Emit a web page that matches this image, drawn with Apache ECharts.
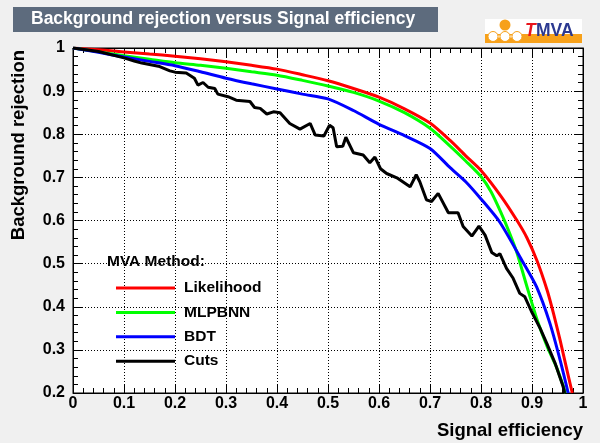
<!DOCTYPE html>
<html><head><meta charset="utf-8">
<script src="https://cdn.jsdelivr.net/npm/echarts@6/dist/echarts.min.js"></script>
<style>html,body{margin:0;padding:0;background:#f0f0f0}#c{width:600px;height:443px}</style>
</head><body><div id="c"></div>
<script>
const chartTitle = 'Background rejection versus Signal efficiency';
const xTitle = 'Signal efficiency';
const yTitle = 'Background rejection';
const legendHeader = 'MVA Method:';
const methods = ['Likelihood', 'MLPBNN', 'BDT', 'Cuts'];
const colors = ['#ff0000', '#00ff00', '#0000ff', '#000000'];

const likelihood = [[0,1],[0.05,0.996],[0.1,0.991],[0.15,0.986],[0.2,0.981],[0.25,0.975],[0.3,0.968],[0.35,0.96],[0.4,0.951],[0.45,0.938],[0.5,0.924],[0.55,0.906],[0.6,0.886],[0.65,0.859],[0.7,0.826],[0.74,0.785],[0.77,0.75],[0.8,0.716],[0.84,0.655],[0.87,0.601],[0.89,0.56],[0.91,0.506],[0.93,0.437],[0.942,0.385],[0.955,0.323],[0.967,0.261],[0.979,0.2]];
const mlpbnn = [[0,1],[0.05,0.991],[0.1,0.982],[0.15,0.974],[0.2,0.966],[0.25,0.96],[0.3,0.953],[0.35,0.945],[0.4,0.937],[0.45,0.925],[0.5,0.912],[0.55,0.897],[0.6,0.877],[0.65,0.85],[0.7,0.814],[0.74,0.772],[0.77,0.738],[0.8,0.702],[0.82,0.666],[0.84,0.616],[0.855,0.574],[0.87,0.527],[0.89,0.447],[0.91,0.37],[0.93,0.307],[0.948,0.26],[0.966,0.2]];
const bdt = [[0,1],[0.05,0.99],[0.1,0.979],[0.15,0.969],[0.2,0.959],[0.25,0.945],[0.3,0.93],[0.35,0.917],[0.4,0.905],[0.45,0.893],[0.5,0.882],[0.55,0.855],[0.6,0.823],[0.65,0.797],[0.7,0.767],[0.74,0.722],[0.77,0.69],[0.8,0.65],[0.837,0.596],[0.88,0.508],[0.909,0.446],[0.935,0.362],[0.955,0.277],[0.971,0.2]];
const cuts = [[0,1],[0.05,0.992],[0.1,0.977],[0.12,0.97],[0.135,0.965],[0.17,0.957],[0.19,0.947],[0.2,0.944],[0.222,0.942],[0.238,0.93],[0.245,0.914],[0.255,0.92],[0.265,0.909],[0.278,0.906],[0.284,0.893],[0.304,0.887],[0.32,0.879],[0.347,0.876],[0.356,0.862],[0.367,0.86],[0.38,0.847],[0.393,0.852],[0.406,0.85],[0.425,0.825],[0.445,0.812],[0.465,0.825],[0.475,0.798],[0.492,0.796],[0.503,0.821],[0.51,0.815],[0.517,0.771],[0.529,0.772],[0.535,0.793],[0.55,0.757],[0.569,0.752],[0.582,0.734],[0.592,0.747],[0.603,0.72],[0.615,0.709],[0.635,0.699],[0.661,0.678],[0.673,0.706],[0.68,0.69],[0.693,0.648],[0.703,0.644],[0.716,0.663],[0.736,0.618],[0.755,0.618],[0.765,0.586],[0.782,0.564],[0.796,0.587],[0.808,0.566],[0.821,0.526],[0.831,0.518],[0.837,0.523],[0.85,0.489],[0.863,0.466],[0.876,0.431],[0.886,0.423],[0.899,0.389],[0.916,0.35],[0.929,0.315],[0.945,0.27],[0.961,0.215],[0.964,0.2]];
const seriesData = [likelihood, mlpbnn, bdt, cuts];

const FONT = 'Liberation Sans, Arial, Helvetica, sans-serif';
const chart = echarts.init(document.getElementById('c'), null, {renderer: 'canvas'});

function axisCommon(extra) {
  return Object.assign({
    type: 'value',
    axisLine: {show: true, onZero: false, lineStyle: {color: '#000', width: 1}},
    axisTick: {show: true, inside: true, length: 9, lineStyle: {color: '#000'}},
    minorTick: {show: true, splitNumber: 5, length: 5, lineStyle: {color: '#000'}},
    splitLine: {show: false},
    axisLabel: {show: false}
  }, extra);
}

const option = {
  backgroundColor: '#f0f0f0',
  animation: false,
  grid: {left: 73, top: 48, right: 17, bottom: 50, show: true, backgroundColor: '#ffffff', borderColor: '#000', borderWidth: 1},
  xAxis: [
    axisCommon({min: 0, max: 1, interval: 0.1, position: 'bottom',
      splitLine: {show: true, lineStyle: {color: '#000', type: [1, 2], width: 1}},
      axisLabel: {show: true, margin: 3, color: '#000', fontFamily: FONT, fontWeight: 'bold', fontSize: 16}}),
    axisCommon({min: 0, max: 1, interval: 0.1, position: 'top'})
  ],
  yAxis: [
    axisCommon({min: 0.2, max: 1, interval: 0.1, position: 'left',
      splitLine: {show: true, lineStyle: {color: '#000', type: [1, 2], width: 1}},
      axisLabel: {show: true, margin: 8, color: '#000', fontFamily: FONT, fontWeight: 'bold', fontSize: 16}}),
    axisCommon({min: 0.2, max: 1, interval: 0.1, position: 'right'})
  ],
  legend: {
    orient: 'vertical', left: 111, top: 275,
    itemWidth: 59, itemHeight: 3, itemGap: 8.4, icon: 'rect',
    data: methods,
    textStyle: {color: '#000', fontFamily: FONT, fontWeight: 'bold', fontSize: 15.5, lineHeight: 16, padding: [0, 0, 0, 4]}
  },
  series: methods.map((m, i) => ({
    name: m, type: 'line', data: seriesData[i], showSymbol: false, symbol: 'none',
    smooth: i < 3 ? 0.25 : false, color: colors[i],
    lineStyle: {color: colors[i], width: 3}, z: 2 + i
  })),
  graphic: [
    {type: 'rect', shape: {x: 13, y: 7, width: 425, height: 25}, style: {fill: '#5D6B7D'}},
    {type: 'text', x: 31, y: 19.5, style: {text: chartTitle, fill: '#ffffff', font: 'bold 17.5px ' + FONT, verticalAlign: 'middle', align: 'left'}},
    {type: 'text', x: 583, y: 431, style: {text: xTitle, fill: '#000', font: 'bold 18.5px ' + FONT, verticalAlign: 'middle', align: 'right'}},
    {type: 'text', x: 19, y: 50, rotation: Math.PI / 2, style: {text: yTitle, fill: '#000', font: 'bold 18.5px ' + FONT, verticalAlign: 'middle', align: 'right'}},
    {type: 'text', x: 107, y: 262, style: {text: legendHeader, fill: '#000', font: 'bold 15.5px ' + FONT, verticalAlign: 'middle', align: 'left'}},
    // TMVA logo
    {type: 'rect', shape: {x: 485, y: 19, width: 97, height: 24}, style: {fill: '#ffffff'}},
    {type: 'rect', shape: {x: 485, y: 34, width: 97, height: 9}, style: {fill: '#f7a11a'}},
    {type: 'circle', shape: {cx: 505, cy: 25, r: 5.5}, style: {fill: '#f7a11a'}},
    {type: 'line', shape: {x1: 493, y1: 36.5, x2: 517, y2: 36.5}, style: {stroke: '#ffffff', lineWidth: 2}},
    {type: 'circle', shape: {cx: 493, cy: 36.5, r: 5}, style: {fill: '#ffffff', stroke: '#f7a11a', lineWidth: 1}},
    {type: 'circle', shape: {cx: 505, cy: 36.5, r: 5}, style: {fill: '#ffffff', stroke: '#f7a11a', lineWidth: 1}},
    {type: 'circle', shape: {cx: 517, cy: 36.5, r: 5}, style: {fill: '#ffffff', stroke: '#f7a11a', lineWidth: 1}},
    {type: 'text', x: 525, y: 31, style: {text: 'T', fill: '#e8141c', font: 'italic bold 17.5px ' + FONT, verticalAlign: 'middle', align: 'left'}},
    {type: 'text', x: 536, y: 31, style: {text: 'MVA', fill: '#2b3990', font: 'bold 17.5px ' + FONT, verticalAlign: 'middle', align: 'left'}}
  ]
};
chart.setOption(option);
</script>
</body></html>
